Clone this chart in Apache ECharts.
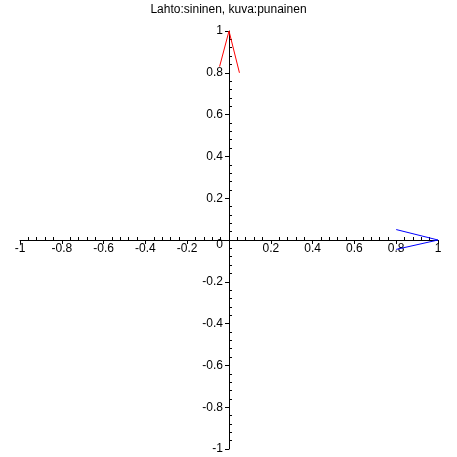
<!DOCTYPE html>
<html>
<head>
<meta charset="utf-8">
<script src="https://cdn.jsdelivr.net/npm/echarts@6/dist/echarts.min.js"></script>
<style>html,body{margin:0;padding:0;background:#fff}#c{width:457px;height:457px}</style>
</head>
<body>
<div id="c"></div>
<script>
var titleText = 'Lahto:sininen, kuva:punainen';
var blueX = [0.8, 1, 0.8];
var blueY = [0.05, 0, -0.045];
var redX = [-0.045, 0, 0.05];
var redY = [0.83, 1, 0.8];

function pairs(xs, ys) { return xs.map(function (x, i) { return [x, ys[i]]; }); }
var font = 'Liberation Sans, Arial, sans-serif';
var W = 418, H = 418;

var chart = echarts.init(document.getElementById('c'), null, {renderer: 'canvas'});
var baseAxis = {
  type: 'value', min: -1, max: 1, interval: 0.2,
  splitLine: {show: false}
};
function mk(extra) { return Object.assign({}, baseAxis, extra); }
chart.setOption({
  animation: false,
  backgroundColor: '#fff',
  title: {
    text: titleText, left: 'center', top: -1,
    textStyle: {fontFamily: font, fontSize: 12, fontWeight: 'normal', color: '#000'}
  },
  grid: {left: 20, top: 31, width: W, height: H, containLabel: false, outerBoundsMode: 'none'},
  xAxis: [
    mk({
      position: 'bottom', offset: -H / 2,
      axisLine: {show: true, onZero: false, lineStyle: {color: '#000', width: 1}},
      axisTick: {show: true, length: 4, lineStyle: {color: '#000'}},
      axisLabel: {
        margin: 3, fontFamily: font, fontSize: 12, color: '#000',
        formatter: function (v) { return Math.abs(v) < 1e-9 ? '' : String(+v.toFixed(1)); }
      }
    }),
    mk({
      position: 'top', offset: -H / 2,
      axisLine: {show: false, onZero: false},
      axisTick: {show: false},
      axisLabel: {show: false},
      minorTick: {show: true, splitNumber: 5, length: 3, lineStyle: {color: '#000', width: 1}}
    })
  ],
  yAxis: [
    mk({
      position: 'left', offset: -W / 2,
      axisLine: {show: true, onZero: false, lineStyle: {color: '#000', width: 1}},
      axisTick: {show: true, length: 4, lineStyle: {color: '#000'}},
      axisLabel: {
        margin: 6, fontFamily: font, fontSize: 12, color: '#000',
        formatter: function (v) { return Math.abs(v) < 1e-9 ? '{z|0}' : String(+v.toFixed(1)); },
        rich: {z: {fontFamily: font, fontSize: 12, color: '#000', padding: [10, 0, 0, 0]}}
      }
    }),
    mk({
      position: 'right', offset: -W / 2,
      axisLine: {show: false, onZero: false},
      axisTick: {show: false},
      axisLabel: {show: false},
      minorTick: {show: true, splitNumber: 5, length: 3, lineStyle: {color: '#000', width: 1}}
    })
  ],
  series: [
    {type: 'line', data: pairs(blueX, blueY), showSymbol: false, symbol: 'none',
     lineStyle: {color: '#0000ff', width: 1}, xAxisIndex: 0, yAxisIndex: 0},
    {type: 'line', data: pairs(redX, redY), showSymbol: false, symbol: 'none',
     lineStyle: {color: '#ff0000', width: 1}, xAxisIndex: 0, yAxisIndex: 0}
  ]
});
</script>
</body>
</html>
